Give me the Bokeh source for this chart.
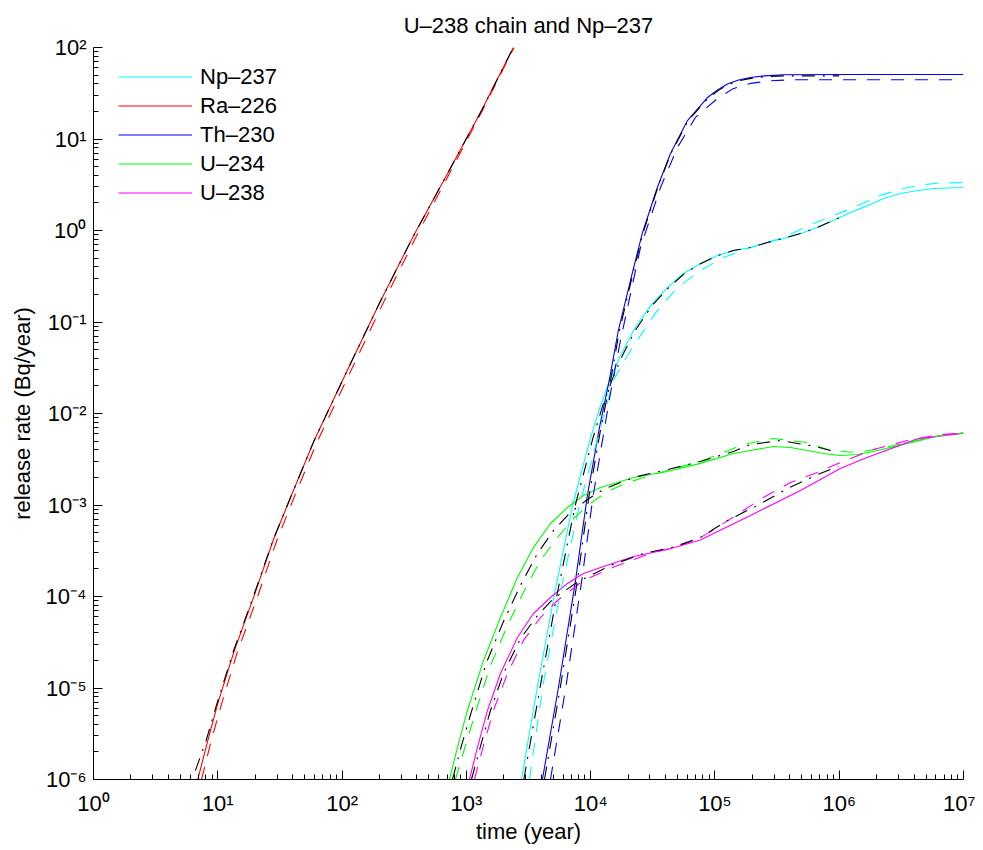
from bokeh.plotting import figure
from bokeh.models import FixedTicker, Legend, LegendItem
from bokeh.embed import file_html
from bokeh.resources import INLINE

# ---------------- data (time in years, release rate in Bq/year) ----------------
nuclides = ["Np-237", "Ra-226", "Th-230", "U-234", "U-238"]
legend_labels = ["Np–237", "Ra–226", "Th–230", "U–234", "U–238"]
colors = ["#00ffff", "#ff0000", "#0000ff", "#00ff00", "#ff00ff"]

# Np-237
np_t_solid = [2775, 3715, 5070, 7160, 10000, 12000, 14420, 17380, 22100, 30270, 41500, 55800, 76400,
              104700, 140900, 193200, 264300, 355600, 487500, 668000, 898000, 1.23e6, 1.69e6, 2.27e6,
              3.11e6, 4.26e6, 5.73e6, 1e7]
np_r_solid = [1e-6, 1e-5, 1e-4, 1e-3, 5.47e-3, 0.0122, 0.0241, 0.0431, 0.0807, 0.151, 0.238, 0.339, 0.436,
              0.533, 0.604, 0.652, 0.739, 0.818, 0.927, 1.08, 1.29, 1.57, 1.87, 2.24,
              2.54, 2.74, 2.88, 2.95]
np_t_dash = [3220, 4100, 5610, 8130, 11750, 15240, 20900, 34440, 49900, 76400, 117000, 193200, 355600,
             620000, 1.3e6, 2.14e6, 3.54e6, 5.73e6, 1e7]
np_r_dash = [1e-6, 1e-5, 1e-4, 1e-3, 6.3e-3, 0.023, 0.0489, 0.134, 0.238, 0.366, 0.507, 0.652, 0.838,
             1.19, 1.78, 2.42, 2.95, 3.27, 3.35]
np_t_ref = [2900, 3910, 5330, 7530, 10470, 12500, 15000, 18030, 22800, 31190, 42460, 56900, 77300,
            105200, 140900, 193200, 264300, 355600, 487500, 668000, 898000, 1e6]
np_r_ref = [1e-6, 1e-5, 1e-4, 1e-3, 5.47e-3, 0.0122, 0.0241, 0.0431, 0.0807, 0.151, 0.238, 0.339, 0.436,
            0.533, 0.604, 0.652, 0.739, 0.818, 0.927, 1.08, 1.29, 1.38]

# Ra-226
ra_t_solid = [6.9, 8.3, 9.95, 13.4, 19.4, 28.0, 38.4, 59.0, 110, 204, 375, 704, 1300, 2390]
ra_r_solid = [1e-6, 2.65e-6, 6.62e-6, 2.42e-5, 9.77e-5, 4.17e-4, 1.20e-3, 4.90e-3, 0.0295, 0.170, 0.871,
              4.17, 19.5, 100]
ra_t_dash = [7.4, 8.85, 10.7, 14.3, 20.8, 30.0, 41.0, 63.0, 118, 218, 397, 730, 1320, 2420]
ra_r_dash = [1e-6, 2.65e-6, 6.62e-6, 2.42e-5, 9.77e-5, 4.17e-4, 1.20e-3, 4.90e-3, 0.0295, 0.170, 0.871,
             4.17, 19.5, 100]
ra_t_ref = [6.6, 8.05, 9.8, 13.2, 19.2, 27.9, 38.4, 59.0, 110, 204, 375, 704, 1300, 2390]
ra_r_ref = [1.25e-6, 2.65e-6, 6.62e-6, 2.42e-5, 9.77e-5, 4.17e-4, 1.20e-3, 4.90e-3, 0.0295, 0.170, 0.871,
            4.17, 19.5, 100]

# Th-230
th_t_solid = [4090, 5500, 7550, 9400, 11770, 14100, 16700, 20900, 26000, 34400, 43900, 60100, 87100,
              105000, 126000, 155000, 193000, 251000, 356000, 1e6, 1e7]
th_r_solid = [1e-6, 1e-5, 1.48e-4, 1.26e-3, 7.0e-3, 0.0229, 0.0807, 0.284, 0.927, 2.95, 6.95, 15.9, 28.4,
              34.3, 40.0, 44.2, 47.0, 49.0, 50.3, 50.7, 50.7]
th_t_dash = [4750, 6300, 8470, 10470, 14420, 17380, 25180, 36480, 49890, 69660, 104700, 140000, 193200,
             280000, 428500, 1e7]
th_r_dash = [1e-6, 1e-5, 1.48e-4, 1.26e-3, 0.0166, 0.0628, 0.652, 2.95, 8.07, 17.2, 27.7, 35.5, 40.5,
             43.3, 44.5, 44.5]
th_t_ref = [4250, 5690, 7820, 9700, 12100, 14450, 17060, 21230, 26300, 34670, 44160, 60950, 89100,
            107000, 128800, 157000, 195000, 253000, 355000, 1e6]
th_r_ref = [1e-6, 1e-5, 1.48e-4, 1.26e-3, 7.0e-3, 0.0229, 0.0807, 0.284, 0.927, 2.95, 6.95, 15.9, 28.4,
            34.0, 39.5, 43.5, 46.0, 48.0, 49.0, 49.0]

# U-234
u4_t_solid = [731, 848, 1020, 1374, 1880, 2576, 3467, 4753, 6506, 8750, 12000, 16440, 22100, 41500, 76400,
              140900, 193200, 295800, 404600, 554600, 746000, 1.02e6, 1.40e6, 1.88e6, 3.54e6, 6.52e6, 1e7]
u4_r_solid = [1e-6, 2.24e-6, 5.68e-6, 2.0e-5, 5.89e-5, 1.61e-4, 3.44e-4, 6.28e-4, 9.4e-4, 1.27e-3, 1.55e-3,
              1.76e-3, 2.0e-3, 2.32e-3, 2.85e-3, 3.65e-3, 3.94e-3, 4.36e-3, 4.25e-3, 3.94e-3, 3.65e-3,
              3.48e-3, 3.56e-3, 3.84e-3, 4.70e-3, 5.75e-3, 6.1e-3]
u4_t_dash = [817, 984, 1183, 1563, 2142, 2880, 3945, 5408, 7278, 9954, 13650, 18350, 25180, 41500, 76400,
             110000, 170000, 295800, 554600, 849000, 1.40e6, 2.14e6, 3.54e6, 6.52e6, 1e7]
u4_r_dash = [1e-6, 2.36e-6, 5.40e-6, 1.76e-5, 4.82e-5, 1.11e-4, 2.47e-4, 4.41e-4, 7.12e-4, 1.04e-3, 1.41e-3,
             1.68e-3, 1.95e-3, 2.38e-3, 3.0e-3, 3.6e-3, 4.6e-3, 5.33e-3, 4.82e-3, 3.94e-3, 3.75e-3,
             4.14e-3, 4.82e-3, 5.75e-3, 6.1e-3]
u4_t_ref = [773, 914, 1099, 1452, 1988, 2723, 3733, 5023, 6880, 9419, 12670, 17380, 23770, 41500, 76400,
            140900, 193200, 336500, 644000, 986000]
u4_r_ref = [1e-6, 2.36e-6, 5.53e-6, 1.90e-5, 5.33e-5, 1.32e-4, 2.95e-4, 5.26e-4, 8.28e-4, 1.15e-3, 1.48e-3,
            1.76e-3, 2.05e-3, 2.44e-3, 2.99e-3, 3.84e-3, 4.58e-3, 5.07e-3, 4.36e-3, 3.75e-3]

# U-238
u8_t_solid = [1059, 1228, 1479, 1880, 2576, 3467, 4753, 6506, 8750, 12000, 22100, 41500, 76400, 97300,
              193200, 487500, 1.02e6, 1.69e6, 4.26e6, 1e7]
u8_r_solid = [1e-6, 2.24e-6, 5.68e-6, 1.44e-5, 3.56e-5, 6.52e-5, 9.75e-5, 1.39e-4, 1.78e-4, 2.07e-4, 2.74e-4,
              3.27e-4, 4.14e-4, 4.89e-4, 7.68e-4, 1.44e-3, 2.51e-3, 3.33e-3, 5.28e-3, 6.1e-3]
u8_t_dash = [1161, 1374, 1652, 2142, 2880, 3945, 5408, 8750, 16440, 30270, 52700, 76400, 110700, 160300,
             245500, 404600, 668000, 1.02e6, 1.88e6, 3.54e6, 6.52e6, 1e7]
u8_r_dash = [1e-6, 2.36e-6, 5.68e-6, 1.44e-5, 3.31e-5, 5.89e-5, 9.04e-5, 1.50e-4, 2.18e-4, 2.95e-4, 3.61e-4,
             4.4e-4, 5.97e-4, 8.28e-4, 1.21e-3, 1.76e-3, 2.27e-3, 2.91e-3, 4.04e-3, 5.07e-3, 5.89e-3, 6.1e-3]
u8_t_ref = [1099, 1298, 1563, 1988, 2723, 3733, 5023, 7980, 14420, 26600, 48100, 76400, 126200, 219800,
            383000, 668000, 986000]
u8_r_ref = [1e-6, 2.30e-6, 5.68e-6, 1.44e-5, 3.47e-5, 6.19e-5, 9.5e-5, 1.46e-4, 2.18e-4, 2.95e-4, 3.52e-4,
            4.41e-4, 6.78e-4, 9.89e-4, 1.51e-3, 2.15e-3, 2.64e-3]

x_ticks = [1, 10, 100, 1e3, 1e4, 1e5, 1e6, 1e7]
x_tick_labels = ["10⁰", "10¹", "10²", "10³", "10⁴", "10⁵", "10⁶", "10⁷"]
y_ticks = [1e-6, 1e-5, 1e-4, 1e-3, 1e-2, 1e-1, 1, 10, 100]
y_tick_labels = ["10⁻⁶", "10⁻⁵", "10⁻⁴", "10⁻³", "10⁻²", "10⁻¹", "10⁰", "10¹", "10²"]

series = {
    "Np-237": (np_t_solid, np_r_solid, np_t_dash, np_r_dash, np_t_ref, np_r_ref),
    "Ra-226": (ra_t_solid, ra_r_solid, ra_t_dash, ra_r_dash, ra_t_ref, ra_r_ref),
    "Th-230": (th_t_solid, th_r_solid, th_t_dash, th_r_dash, th_t_ref, th_r_ref),
    "U-234": (u4_t_solid, u4_r_solid, u4_t_dash, u4_r_dash, u4_t_ref, u4_r_ref),
    "U-238": (u8_t_solid, u8_r_solid, u8_t_dash, u8_r_dash, u8_t_ref, u8_r_ref),
}

FONT = "Liberation Sans"

p = figure(width=975, height=847, x_axis_type="log", y_axis_type="log",
           x_range=(1, 1e7), y_range=(1e-6, 1e2),
           output_backend="svg", toolbar_location=None,
           min_border_left=93, min_border_right=12, min_border_top=47, min_border_bottom=68)

p.title.text = "U–238 chain and Np–237"
p.title.text_font = FONT
p.title.text_font_size = "22px"
p.title.text_font_style = "normal"
p.title.text_color = "black"
p.title.align = "center"
p.title.standoff = 19

p.grid.visible = False
p.outline_line_color = None
p.background_fill_color = "white"
p.border_fill_color = "white"

minor_x = [k * 10.0 ** e for e in range(0, 7) for k in range(2, 10)]
minor_y = [k * 10.0 ** e for e in range(-6, 2) for k in range(2, 10)]
p.xaxis.ticker = FixedTicker(ticks=x_ticks, minor_ticks=minor_x)
p.yaxis.ticker = FixedTicker(ticks=y_ticks, minor_ticks=minor_y)
p.xaxis.major_label_overrides = dict(zip(x_ticks, x_tick_labels))
p.yaxis.major_label_overrides = dict(zip(y_ticks, y_tick_labels))

for ax in list(p.xaxis) + list(p.yaxis):
    ax.major_tick_in = 9
    ax.major_tick_out = 0
    ax.minor_tick_in = 5
    ax.minor_tick_out = 0
    ax.axis_line_color = "black"
    ax.major_tick_line_color = "black"
    ax.minor_tick_line_color = "black"
    ax.major_label_text_font = FONT
    ax.major_label_text_font_size = "22px"
    ax.major_label_text_color = "black"
    ax.axis_label_text_font = FONT
    ax.axis_label_text_font_size = "22px"
    ax.axis_label_text_font_style = "normal"
    ax.axis_label_text_color = "black"

p.xaxis.axis_label = "time (year)"
p.yaxis.axis_label = "release rate (Bq/year)"
p.xaxis.major_label_standoff = 11
p.xaxis.axis_label_standoff = 0
p.yaxis.major_label_standoff = 7
p.yaxis.axis_label_standoff = 8

LW = 1.1
solid_renderers = {}
for name, col in zip(nuclides, colors):
    ts, rs, _, _, _, _ = series[name]
    solid_renderers[name] = p.line(ts, rs, line_color=col, line_width=LW)
for name, col in zip(nuclides, colors):
    _, _, td, rd, _, _ = series[name]
    p.line(td, rd, line_color=col, line_width=LW, line_dash="13 11")
for name, col in zip(nuclides, colors):
    _, _, _, _, tr, rr = series[name]
    p.line(tr, rr, line_color="black", line_width=LW, line_dash="13 8 2 8")

legend = Legend(items=[LegendItem(label=lab, renderers=[solid_renderers[n]])
                       for n, lab in zip(nuclides, legend_labels)],
                location=(25, 572))
legend.glyph_width = 74
legend.glyph_height = 29
legend.label_height = 29
legend.spacing = 0
legend.padding = 0
legend.margin = 0
legend.label_standoff = 8
legend.border_line_color = None
legend.background_fill_alpha = 0
legend.label_text_font = FONT
legend.label_text_font_size = "22px"
legend.label_text_color = "black"
p.add_layout(legend)

open("out.html", "w").write(file_html(p, INLINE))
